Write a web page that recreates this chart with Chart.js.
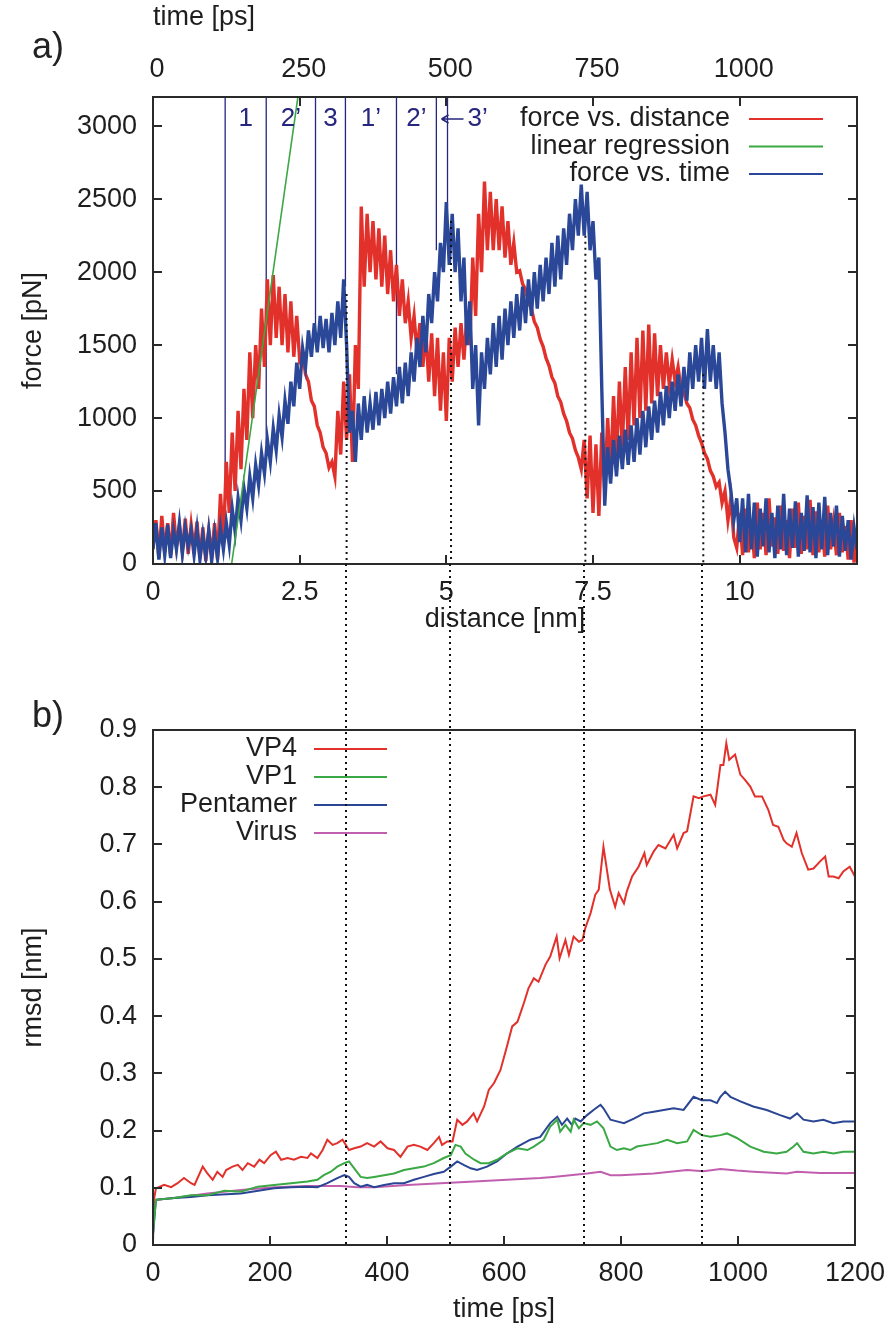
<!DOCTYPE html>
<html>
<head>
<meta charset="utf-8">
<title>Force and rmsd</title>
<script src="https://cdn.jsdelivr.net/npm/chart.js@4.4.1/dist/chart.umd.min.js"></script>
<style>
  html, body { margin: 0; padding: 0; background: #ffffff; }
  #page { position: relative; width: 891px; height: 1329px; overflow: hidden;
          font-family: "Liberation Sans", Arial, sans-serif; color: #222; }
  canvas { position: absolute; left: 0; }
  #grafA { top: 0; }
  #grafB { top: 564px; }
  .tag { position: absolute; left: 32px; font-size: 36px; line-height: 36px; }
</style>
</head>
<body>
<div id="page">
  <canvas id="grafA" width="891" height="640"></canvas>
  <canvas id="grafB" width="891" height="765"></canvas>
  <div class="tag" style="top:28px">a)</div>
  <div class="tag" style="top:697px">b)</div>
</div>
<script>
// ---------- panel a ----------
// force vs. distance, read every 0.05 nm (0 .. 12 nm)
const distStep = 0.05;
const forceVsDistance = [
  120, 300, 40, 330, 80, 280, 60, 350, 120, 260,
  90, 310, 70, 270, 100, 290, 40, 250, 20, 230,
  60, 280, 30, 480, 150, 700, 350, 900, 500, 1050,
  650, 1200, 850, 1450, 1000, 1500, 1200, 1750, 1350, 1950,
  1500, 1980, 1550, 1900, 1500, 1850, 1450, 1800, 1420, 1700,
  1400, 1450, 1300, 1250, 1120, 1080, 950, 900, 800, 760,
  660, 700, 600, 1050, 750, 1250, 850, 1300, 700, 1500,
  1200, 2450, 1900, 2400, 2000, 2350, 1950, 2300, 1900, 2250,
  1850, 2150, 1800, 2050, 1700, 1950, 1650, 1800, 1550, 1700,
  1450, 1650, 1350, 1600, 1250, 1580, 1150, 1550, 1050, 1450,
  980, 1550, 1250, 1620, 1350, 1650, 1400, 1700, 1500, 2100,
  1700, 2400, 2000, 2620, 2150, 2550, 2150, 2500, 2150, 2450,
  2100, 2350, 2050, 2200, 2000, 2010, 1920, 1880, 1790, 1750,
  1660, 1620, 1540, 1490, 1410, 1360, 1280, 1240, 1150, 1110,
  1030, 980, 900, 860, 780, 730, 650, 850, 450, 880,
  350, 820, 330, 900, 500, 1000, 600, 1150, 700, 1250,
  800, 1350, 850, 1450, 950, 1550, 1000, 1600, 1050, 1640,
  1100, 1580, 1150, 1500, 1200, 1450, 1230, 1400, 1250, 1350,
  1200, 1180, 1100, 1070, 990, 950, 880, 830, 760, 720,
  640, 600, 530, 560, 420, 500, 300, 450, 180, 110,
  350, 60, 380, 80, 300, 40, 420, 100, 350, 60,
  450, 120, 320, 70, 400, 90, 300, 40, 380, 110,
  420, 70, 330, 100, 440, 60, 360, 80, 300, 50,
  400, 100, 280, 60, 350, 80, 260, 30, 300, 10,
  200
];
// force vs. time, read every 5 ps (0 .. 1200 ps)
const timeStep = 5;
const forceVsTime = [
  100, 280, 30, 250, 60, 270, 40, 230, 100, 280,
  70, 250, 120, 230, 60, 240, 30, 200, 50, 230,
  20, 210, 40, 250, 100, 280, 130, 380, 220, 450,
  300, 520, 380, 600, 450, 680, 540, 760, 620, 850,
  700, 930, 780, 1020, 870, 1120, 960, 1250, 1080, 1380,
  1200, 1480, 1350, 1600, 1420, 1650, 1450, 1700, 1480, 1680,
  1450, 1720, 1500, 1800, 1550, 1950, 1500, 900, 1050, 700,
  1100, 850, 1150, 900, 1100, 920, 1180, 950, 1200, 1000,
  1250, 1030, 1280, 1080, 1350, 1100, 1380, 1150, 1450, 1250,
  1550, 1350, 1700, 1450, 1850, 1650, 2000, 1800, 2200, 2000,
  2480, 2050, 2400, 2000, 2300, 1800, 2100, 1500, 1800, 1200,
  1500, 950, 1450, 1200, 1550, 1300, 1650, 1350, 1700, 1400,
  1750, 1500, 1800, 1550, 1850, 1600, 1900, 1650, 1950, 1700,
  2000, 1750, 2050, 1800, 2100, 1850, 2200, 1900, 2250, 1950,
  2300, 2050, 2400, 2150, 2500, 2250, 2600, 2250, 2550, 2150,
  2350, 1950, 2100, 1200, 400, 800, 550, 850, 600, 880,
  650, 920, 680, 950, 700, 1000, 750, 1050, 800, 1080,
  850, 1120, 900, 1180, 950, 1220, 1000, 1250, 1050, 1300,
  1080, 1350, 1120, 1450, 1200, 1500, 1250, 1550, 1200, 1610,
  1250, 1500, 1200, 1450, 1100, 900, 650, 500, 300, 450,
  150, 450, 80, 480, 100, 420, 50, 380, 120, 450,
  80, 350, 40, 400, 100, 480, 60, 380, 110, 430,
  50, 350, 90, 470, 80, 390, 40, 420, 100, 460,
  60, 350, 120, 400, 50, 330, 90, 300, 30, 250,
  100
];
const regressionDist = [1.34, 2.47];
const regressionForce = [0, 3200];
// region borders (ps) and the force where each border meets the curve
const regionTimes = [123, 193, 277, 328, 415, 483, 502];
const regionForceEnd = [234, 820, 1600, 1900, 1300, 2150, 2450];
const regionLabels = ["1", "2\u2019", "3", "1\u2019", "2\u2019", "3\u2019"];
// dotted markers (ps) shared by both panels
const markTimes = [330, 508, 737, 938];
const markForce = [1850, 2350, 2250, 1300];
const forceTicks = [0, 500, 1000, 1500, 2000, 2500, 3000];
const distTicks = [0, 2.5, 5, 7.5, 10];
const timeTicksA = [0, 250, 500, 750, 1000];

// ---------- panel b ----------
const vp4 = [
  [0,0.07],[5,0.099],[19,0.105],[31,0.101],[42,0.108],[53,0.117],[65,0.108],[71,0.105],[85,0.137],[93,0.125],
  [102,0.114],[110,0.128],[119,0.119],[125,0.131],[136,0.137],[145,0.140],[153,0.131],[162,0.143],[173,0.137],[182,0.149],
  [190,0.143],[201,0.157],[210,0.163],[219,0.149],[230,0.152],[241,0.149],[253,0.154],[264,0.152],[270,0.160],[281,0.152],
  [290,0.166],[298,0.184],[307,0.175],[315,0.178],[324,0.184],[335,0.166],[344,0.169],[355,0.172],[366,0.178],[378,0.172],
  [389,0.181],[401,0.169],[412,0.166],[423,0.154],[435,0.172],[446,0.175],[457,0.172],[469,0.166],[480,0.178],[489,0.189],
  [494,0.175],[503,0.181],[512,0.181],[520,0.219],[529,0.210],[537,0.216],[548,0.230],[554,0.216],[566,0.242],[574,0.271],
  [583,0.283],[594,0.306],[605,0.347],[614,0.382],[623,0.390],[634,0.423],[642,0.449],[651,0.466],[659,0.460],[671,0.490],
  [679,0.504],[690,0.539],[695,0.501],[705,0.533],[711,0.507],[719,0.539],[728,0.530],[734,0.533],[739,0.554],[748,0.580],
  [756,0.612],[762,0.621],[770,0.696],[781,0.621],[790,0.591],[796,0.615],[805,0.597],[810,0.618],[819,0.644],[830,0.661],
  [840,0.685],[844,0.664],[856,0.688],[864,0.699],[876,0.693],[890,0.717],[896,0.693],[907,0.720],[913,0.723],[924,0.784],
  [933,0.781],[941,0.784],[953,0.787],[961,0.769],[970,0.839],[975,0.839],[980,0.877],[985,0.848],[995,0.857],[1004,0.822],
  [1012,0.813],[1021,0.801],[1029,0.784],[1041,0.784],[1052,0.760],[1060,0.734],[1069,0.731],[1078,0.708],[1083,0.702],[1092,0.696],
  [1100,0.720],[1109,0.685],[1120,0.656],[1129,0.658],[1140,0.670],[1149,0.679],[1155,0.644],[1163,0.644],[1172,0.641],[1180,0.653],
  [1191,0.661],[1200,0.644]
];
const vp1 = [
  [0,0.02],[5,0.079],[36,0.082],[65,0.087],[93,0.087],[122,0.095],[150,0.093],[179,0.102],[207,0.105],[236,0.108],
  [264,0.111],[281,0.114],[292,0.122],[304,0.128],[315,0.137],[327,0.143],[335,0.146],[344,0.134],[355,0.119],[366,0.117],
  [378,0.119],[395,0.122],[412,0.125],[429,0.131],[446,0.134],[463,0.137],[480,0.143],[497,0.152],[509,0.157],[517,0.175],
  [526,0.172],[534,0.160],[549,0.149],[560,0.143],[574,0.143],[588,0.149],[605,0.160],[623,0.169],[640,0.166],[651,0.172],
  [668,0.184],[679,0.207],[691,0.219],[696,0.198],[705,0.210],[714,0.198],[719,0.219],[728,0.204],[736,0.213],[748,0.210],
  [759,0.216],[770,0.204],[782,0.172],[793,0.166],[805,0.169],[816,0.166],[827,0.172],[844,0.175],[862,0.178],[879,0.184],
  [896,0.178],[913,0.181],[924,0.201],[938,0.192],[953,0.189],[970,0.192],[981,0.195],[998,0.187],[1021,0.172],[1044,0.163],
  [1066,0.160],[1083,0.163],[1095,0.172],[1101,0.178],[1112,0.163],[1129,0.160],[1146,0.163],[1163,0.160],[1180,0.163],[1200,0.163]
];
const pentamer = [
  [0,0.02],[5,0.079],[36,0.082],[65,0.084],[93,0.087],[150,0.090],[207,0.099],[236,0.101],[264,0.102],[281,0.101],
  [298,0.108],[315,0.117],[327,0.122],[335,0.119],[344,0.108],[355,0.102],[366,0.105],[378,0.101],[395,0.105],[412,0.108],
  [429,0.108],[446,0.114],[463,0.119],[480,0.124],[497,0.128],[509,0.137],[520,0.146],[531,0.140],[543,0.134],[554,0.131],
  [571,0.137],[588,0.146],[605,0.160],[623,0.172],[645,0.184],[662,0.189],[679,0.213],[691,0.224],[699,0.210],[708,0.221],
  [716,0.210],[722,0.221],[731,0.216],[742,0.227],[753,0.236],[765,0.245],[770,0.239],[782,0.219],[793,0.216],[805,0.213],
  [822,0.221],[839,0.230],[856,0.233],[873,0.236],[890,0.239],[907,0.236],[924,0.259],[938,0.253],[953,0.253],[964,0.248],
  [970,0.259],[978,0.268],[987,0.259],[1004,0.251],[1026,0.242],[1049,0.236],[1072,0.227],[1089,0.221],[1101,0.230],[1112,0.219],
  [1129,0.216],[1146,0.219],[1163,0.213],[1180,0.216],[1200,0.216]
];
const virus = [
  [0,0.005],[2,0.073],[5,0.079],[36,0.082],[93,0.090],[150,0.096],[207,0.101],[264,0.103],[321,0.103],[349,0.101],
  [378,0.101],[435,0.105],[492,0.108],[549,0.111],[605,0.114],[662,0.117],[684,0.119],[713,0.122],[742,0.125],[765,0.128],
  [782,0.122],[799,0.122],[856,0.125],[913,0.131],[941,0.129],[970,0.133],[998,0.130],[1026,0.128],[1083,0.125],[1101,0.128],
  [1140,0.126],[1200,0.126]
];
const rmsdTicks = [0, 0.1, 0.2, 0.3, 0.4, 0.5, 0.6, 0.7, 0.8, 0.9];
const timeTicksB = [0, 200, 400, 600, 800, 1000, 1200];

// ---------- helpers ----------
const RED = "#e2312b";
const GREEN = "#3aa844";
const BLUE = "#2b4898";
const NAVY = "#26267e";
const PINK = "#c15fae";
const INK = "#1e1e1e";
const FONT = '"Liberation Sans", Arial, Helvetica, sans-serif';

Chart.defaults.font.family = FONT;
Chart.defaults.font.size = 27;
Chart.defaults.color = INK;

const sampled = (vals, step) => vals.map((v, i) => ({ x: +(i * step).toFixed(2), y: v }));
const pairs = arr => arr.map(([x, y]) => ({ x: x, y: y }));
const setTicks = list => scale => { scale.ticks = list.map(v => ({ value: v })); };
// fixed axis size, and no extra side padding for the outer tick labels
const fixHeight = h => s => { s.height = h; s.paddingLeft = 0; s.paddingRight = 0; };
const fixWidth = w => s => { s.width = w; s.paddingTop = 0; s.paddingBottom = 0; };

// frame round the plot and gnuplot style inward ticks
const boxTicks = {
  id: "boxTicks",
  afterDatasetsDraw(chart, args, opts) {
    const { ctx, chartArea: a, scales } = chart;
    const len = opts.len;
    ctx.save();
    ctx.strokeStyle = "#2a2a2a";
    ctx.lineWidth = 2;
    ctx.beginPath();
    (opts.bottom || []).forEach(id => scales[id].ticks.forEach(t => {
      const x = Math.round(scales[id].getPixelForValue(t.value));
      ctx.moveTo(x, a.bottom);
      ctx.lineTo(x, a.bottom - len);
    }));
    (opts.top || []).forEach(id => scales[id].ticks.forEach(t => {
      const x = Math.round(scales[id].getPixelForValue(t.value));
      ctx.moveTo(x, a.top);
      ctx.lineTo(x, a.top + len);
    }));
    (opts.sides || []).forEach(id => scales[id].ticks.forEach(t => {
      const y = Math.round(scales[id].getPixelForValue(t.value));
      ctx.moveTo(a.left, y);
      ctx.lineTo(a.left + len, y);
      ctx.moveTo(a.right, y);
      ctx.lineTo(a.right - len, y);
    }));
    ctx.stroke();
    ctx.strokeRect(a.left, a.top, a.right - a.left, a.bottom - a.top);
    ctx.restore();
  }
};

// gnuplot like key: text on the left, line sample on the right
const lineLegend = {
  id: "lineLegend",
  afterDatasetsDraw(chart, args, opts) {
    const { ctx } = chart;
    ctx.save();
    ctx.font = opts.font;
    ctx.textAlign = "right";
    ctx.textBaseline = "middle";
    opts.items.forEach((idx, row) => {
      const ds = chart.data.datasets[idx];
      const y = opts.y + row * opts.rowGap;
      ctx.fillStyle = INK;
      ctx.fillText(ds.label, opts.textRight, y);
      ctx.strokeStyle = ds.borderColor;
      ctx.lineWidth = 2;
      ctx.beginPath();
      ctx.moveTo(opts.lineFrom, y);
      ctx.lineTo(opts.lineTo, y);
      ctx.stroke();
    });
    ctx.restore();
  }
};

// region names between the navy borders of panel a
const regionTags = {
  id: "regionTags",
  afterDatasetsDraw(chart, args, opts) {
    const { ctx, chartArea: a, scales } = chart;
    const xs = regionTimes.map(t => scales.x2.getPixelForValue(t));
    const y = a.top + 22;
    ctx.save();
    ctx.font = opts.font;
    ctx.fillStyle = NAVY;
    ctx.strokeStyle = NAVY;
    ctx.textAlign = "center";
    ctx.textBaseline = "middle";
    for (let i = 0; i < 5; i++) {
      ctx.fillText(regionLabels[i], (xs[i] + xs[i + 1]) / 2, y);
    }
    const bx = xs[6];
    ctx.lineWidth = 1.5;
    ctx.beginPath();
    ctx.moveTo(bx - 6, y);
    ctx.lineTo(bx + 16, y);
    ctx.moveTo(bx - 6, y);
    ctx.lineTo(bx + 1, y - 4);
    ctx.moveTo(bx - 6, y);
    ctx.lineTo(bx + 1, y + 4);
    ctx.stroke();
    ctx.textAlign = "left";
    ctx.fillText(regionLabels[5], bx + 20, y);
    ctx.restore();
  }
};

// dotted markers of panel b, running up through the gap to panel a
const markLinesB = {
  id: "markLinesB",
  afterDatasetsDraw(chart) {
    const { ctx, chartArea: a, scales } = chart;
    ctx.save();
    ctx.strokeStyle = "#111";
    ctx.lineWidth = 2;
    ctx.setLineDash([2, 4]);
    markTimes.forEach(t => {
      const px = Math.round(scales.x.getPixelForValue(t));
      ctx.beginPath();
      ctx.moveTo(px, 0);
      ctx.lineTo(px, a.bottom);
      ctx.stroke();
    });
    ctx.restore();
  }
};

const plainAxis = { grid: { display: false, drawTicks: false }, border: { display: false } };

// ---------- chart a ----------
new Chart(document.getElementById("grafA"), {
  type: "scatter",
  data: {
    datasets: [
      { label: "force vs. distance", data: sampled(forceVsDistance, distStep), xAxisID: "x",
        borderColor: RED, borderWidth: 3.4, showLine: true, order: 3 },
      { label: "linear regression", data: regressionDist.map((d, i) => ({ x: d, y: regressionForce[i] })), xAxisID: "x",
        borderColor: GREEN, borderWidth: 1.6, showLine: true, order: 1 },
      { label: "force vs. time", data: sampled(forceVsTime, timeStep), xAxisID: "x2",
        borderColor: BLUE, borderWidth: 3.4, showLine: true, order: 2 },
      { label: "borders", xAxisID: "x2", borderColor: NAVY, borderWidth: 1.3, showLine: true, order: 4,
        data: regionTimes.flatMap((t, i) => [{ x: t, y: 3200 }, { x: t, y: regionForceEnd[i] }, { x: t, y: null }]) },
      { label: "marks", xAxisID: "x2", borderColor: "#111", borderWidth: 2, borderDash: [2, 4], showLine: true, order: 0,
        data: markTimes.flatMap((t, i) => [{ x: t, y: markForce[i] }, { x: t, y: 0 }, { x: t, y: null }]) }
    ]
  },
  options: {
    responsive: false,
    animation: false,
    devicePixelRatio: 1,
    layout: { padding: { left: 0, right: 34, top: 0, bottom: 0 } },
    elements: { point: { radius: 0, hoverRadius: 0 }, line: { tension: 0 } },
    plugins: {
      legend: { display: false },
      tooltip: { enabled: false },
      boxTicks: { len: 9, bottom: ["x"], top: ["x2"], sides: ["y"] },
      lineLegend: { items: [0, 1, 2], font: "27px " + FONT, textRight: 730, lineFrom: 749, lineTo: 823, y: 119, rowGap: 27.5 },
      regionTags: { font: "26px " + FONT }
    },
    scales: {
      x: {
        ...plainAxis, type: "linear", position: "bottom", min: 0, max: 12,
        afterBuildTicks: setTicks(distTicks),
        afterFit: fixHeight(76),
        ticks: { padding: 12, maxRotation: 0, autoSkip: false, callback: v => String(v) },
        title: { display: true, text: "distance [nm]", padding: { top: 0, bottom: 4 } }
      },
      x2: {
        ...plainAxis, type: "linear", position: "top", min: 0, max: 1200,
        afterBuildTicks: setTicks(timeTicksA),
        afterFit: fixHeight(97),
        ticks: { padding: 11, labelOffset: 4, maxRotation: 0, autoSkip: false, callback: v => String(v) },
        title: { display: true, text: "time [ps]", align: "start", padding: { top: 1, bottom: 0 } }
      },
      y: {
        ...plainAxis, type: "linear", position: "left", min: 0, max: 3200,
        afterBuildTicks: setTicks(forceTicks),
        afterFit: fixWidth(153),
        ticks: { padding: 16, autoSkip: false, callback: v => String(v) },
        title: { display: true, text: "force [pN]", padding: { top: 17, bottom: 0 } }
      }
    }
  },
  plugins: [regionTags, boxTicks, lineLegend]
});

// ---------- chart b ----------
new Chart(document.getElementById("grafB"), {
  type: "scatter",
  data: {
    datasets: [
      { label: "VP4", data: pairs(vp4), borderColor: RED, borderWidth: 2, showLine: true },
      { label: "VP1", data: pairs(vp1), borderColor: GREEN, borderWidth: 2, showLine: true },
      { label: "Pentamer", data: pairs(pentamer), borderColor: "#2a4593", borderWidth: 2, showLine: true },
      { label: "Virus", data: pairs(virus), borderColor: PINK, borderWidth: 2, showLine: true }
    ]
  },
  options: {
    responsive: false,
    animation: false,
    devicePixelRatio: 1,
    layout: { padding: { left: 0, right: 36, top: 166, bottom: 0 } },
    elements: { point: { radius: 0, hoverRadius: 0 }, line: { tension: 0 } },
    plugins: {
      legend: { display: false },
      tooltip: { enabled: false },
      boxTicks: { len: 9, bottom: ["x"], sides: ["y"] },
      lineLegend: { items: [0, 1, 2, 3], font: "27px " + FONT, textRight: 297, lineFrom: 314, lineTo: 387, y: 185, rowGap: 28 }
    },
    scales: {
      x: {
        ...plainAxis, type: "linear", position: "bottom", min: 0, max: 1200,
        afterBuildTicks: setTicks(timeTicksB),
        afterFit: fixHeight(84),
        ticks: { padding: 12, maxRotation: 0, autoSkip: false, callback: v => String(v) },
        title: { display: true, text: "time [ps]", padding: { top: 0, bottom: 3 } }
      },
      y: {
        ...plainAxis, type: "linear", position: "left", min: 0, max: 0.9,
        afterBuildTicks: setTicks(rmsdTicks),
        afterFit: fixWidth(153),
        ticks: { padding: 16, autoSkip: false, callback: v => (v === 0 ? "0" : v.toFixed(1)) },
        title: { display: true, text: "rmsd [nm]", padding: { top: 17, bottom: 0 } }
      }
    }
  },
  plugins: [boxTicks, lineLegend, markLinesB]
});
</script>
</body>
</html>
